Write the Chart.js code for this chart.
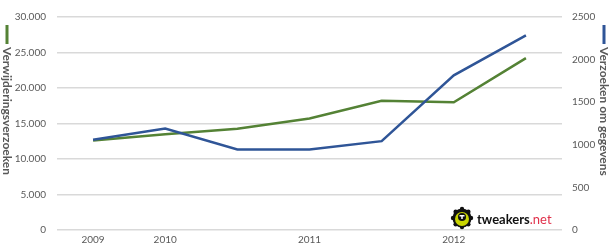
<!DOCTYPE html>
<html lang="nl">
  <head>
    <meta charset="UTF-8" />
    <title>Verzoeken</title>
    <script src="https://cdn.jsdelivr.net/npm/chart.js"></script>
    <style>
      html, body { margin: 0; padding: 0; background: #fff; }
      #wrap { width: 610px; height: 247px; }
    </style>
  </head>
  <body>
    <div id="wrap"><canvas id="chart" width="610" height="247"></canvas></div>
    <script>
      // data
      const periods = ["2009", "2010", "", "2011", "", "2012", ""];
      const verwijderingen = [12600, 13500, 14250, 15700, 18200, 18000, 24200];
      const gegevens = [1058, 1190, 944, 944, 1043, 1815, 2285];

      const green = "#548235";
      const blue = "#2F5597";
      const textGrey = "#595959";
      const font = "Lato, 'Open Sans', sans-serif";

      // vertical axis titles (read top to bottom) + little legend bars, and logo
      const decor = {
        id: "decor",
        afterDraw(chart) {
          const ctx = chart.ctx;
          ctx.save();
          ctx.font = "bold 12px " + font;
          ctx.fillStyle = textGrey;
          ctx.textBaseline = "middle";
          ctx.textAlign = "left";

          const drawTitle = (x, text, color) => {
            ctx.fillStyle = color;
            ctx.fillRect(x - 1.5, 25, 3, 19);
            ctx.save();
            ctx.translate(x, 47);
            ctx.rotate(Math.PI / 2);
            ctx.fillStyle = textGrey;
            ctx.fillText(text, 0, 0);
            ctx.restore();
          };
          drawTitle(7, "Verwijderingsverzoeken", green);
          drawTitle(604, "Verzoeken om gegevens", blue);

          // tweakers.net logo
          const cx = 462, cy = 218;
          ctx.fillStyle = "#111";
          for (let i = 0; i < 8; i++) {
            const a = (i * Math.PI) / 4;
            ctx.beginPath();
            ctx.arc(cx + Math.cos(a) * 9, cy + Math.sin(a) * 9, 2.2, 0, Math.PI * 2);
            ctx.fill();
          }
          ctx.beginPath();
          ctx.arc(cx, cy, 9.5, 0, Math.PI * 2);
          ctx.fill();
          ctx.fillStyle = "#C8D400";
          ctx.beginPath();
          ctx.arc(cx, cy + 1, 7, 0, Math.PI * 2);
          ctx.fill();
          ctx.fillStyle = "#111";
          ctx.beginPath();
          ctx.arc(cx, cy - 1, 4, 0, Math.PI * 2);
          ctx.fill();
          ctx.fillStyle = "#fff";
          ctx.fillRect(cx - 2.5, cy - 3, 5, 1.5);
          ctx.fillRect(cx - 0.75, cy - 3, 1.5, 4);

          ctx.font = "bold 13px " + font;
          ctx.textAlign = "left";
          ctx.fillStyle = "#111";
          ctx.fillText("tweakers", 477, 220);
          const w = ctx.measureText("tweakers").width;
          ctx.font = "13px " + font;
          ctx.fillStyle = "#E0304A";
          ctx.fillText(".net", 477 + w, 220);
          ctx.restore();
        },
      };

      new Chart(document.getElementById("chart"), {
        type: "line",
        data: {
          labels: periods,
          datasets: [
            {
              label: "Verzoeken om gegevens",
              data: gegevens,
              yAxisID: "y2",
              borderColor: blue,
              borderWidth: 2.5,
              pointRadius: 0,
              tension: 0,
              order: 0,
            },
            {
              label: "Verwijderingsverzoeken",
              data: verwijderingen,
              yAxisID: "y",
              borderColor: green,
              borderWidth: 2.5,
              pointRadius: 0,
              tension: 0,
              order: 1,
            },
          ],
        },
        options: {
          responsive: false,
          animation: false,
          layout: { padding: { top: 4, left: 0, right: 0, bottom: 0 } },
          plugins: { legend: { display: false }, tooltip: { enabled: false } },
          scales: {
            x: {
              offset: true,
              grid: { display: false, drawTicks: false },
              border: { display: false },
              ticks: {
                autoSkip: false,
                maxRotation: 0,
                padding: 4,
                color: textGrey,
                font: { family: font, size: 10 },
              },
              afterFit(s) { s.height = 17; },
            },
            y: {
              position: "left",
              min: 0,
              max: 30000,
              grid: { color: "#D9D9D9", lineWidth: 1.5, drawTicks: false },
              border: { display: false },
              ticks: {
                stepSize: 5000,
                padding: 11,
                color: textGrey,
                font: { family: font, size: 10 },
                callback: (v) => v.toLocaleString("nl-NL"),
              },
              afterFit(s) { s.width = 57; },
            },
            y2: {
              position: "right",
              min: 0,
              max: 2500,
              grid: { display: false, drawTicks: false },
              border: { display: false },
              ticks: {
                stepSize: 500,
                padding: 10,
                color: textGrey,
                font: { family: font, size: 10 },
                callback: (v) => String(v),
              },
              afterFit(s) { s.width = 48; },
            },
          },
        },
        plugins: [decor],
      });
    </script>
  </body>
</html>
